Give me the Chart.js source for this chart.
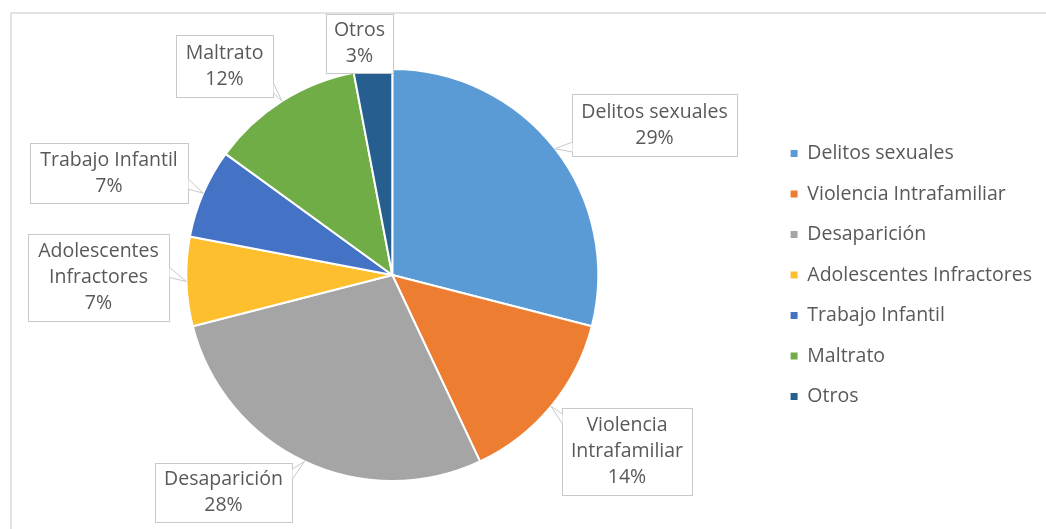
<!DOCTYPE html>
<html><head><meta charset="utf-8">
<script src="https://cdn.jsdelivr.net/npm/chart.js@4/dist/chart.umd.min.js"></script>
<style>html,body{margin:0;padding:0;background:#fff}#wrap{width:1046px;height:529px;position:relative}</style>
</head><body><div id="wrap"><canvas id="c" width="1046" height="529"></canvas></div>
<script>
// ---- data ----
const categories = ["Delitos sexuales","Violencia Intrafamiliar","Desaparición","Adolescentes Infractores","Trabajo Infantil","Maltrato","Otros"];
const percentages = [29,14,28,7,7,12,3];
const calloutNames = [["Delitos sexuales"],["Violencia","Intrafamiliar"],["Desaparición"],["Adolescentes","Infractores"],["Trabajo Infantil"],["Maltrato"],["Otros"]];
const sliceColors = ["#5B9BD5","#ED7D31","#A5A5A5","#FDBF2D","#4472C4","#70AD47","#265E90"];
// ---- layout (callout boxes: x, y, w, h) ----
const calloutBoxes = [[572,94,165,62],[562,408,130,87],[155,463,137,59],[28,234,141,87],[30,143,158,60],[176,35,97,62],[326,14,67,59]];
const FONT = '"Open Sans", sans-serif';
const FSIZE = 19.5;
const TEXT = '#595959';

const framePlugin = {
  id:'frame',
  beforeDraw(chart){
    const ctx = chart.ctx; ctx.save();
    ctx.fillStyle='#fff'; ctx.fillRect(0,0,chart.width,chart.height);
    ctx.strokeStyle='#e3e3e3'; ctx.lineWidth=2;
    ctx.strokeRect(11,13,chart.width+20,chart.height+20);
    ctx.restore();
  }
};

const calloutPlugin = {
  id:'callouts',
  afterDraw(chart){
    const ctx = chart.ctx;
    const meta = chart.getDatasetMeta(0);
    meta.data.forEach((arc,i)=>{
      const p = arc.getProps(['x','y','startAngle','endAngle','outerRadius'],true);
      const mid = (p.startAngle+p.endAngle)/2;
      const tip = {x:p.x+Math.cos(mid)*p.outerRadius, y:p.y+Math.sin(mid)*p.outerRadius};
      const [bx,by,bw,bh] = calloutBoxes[i];
      ctx.save();
      ctx.fillStyle='#fff'; ctx.strokeStyle='#c9c9c9'; ctx.lineWidth=1;
      ctx.fillRect(bx,by,bw,bh);
      ctx.strokeRect(bx+0.5,by+0.5,bw,bh);
      const inside = tip.x>=bx-4 && tip.x<=bx+bw+4 && tip.y>=by-4 && tip.y<=by+bh+4;
      if(!inside){
        let a,b;
        const dxL = bx-tip.x, dxR = tip.x-(bx+bw), dyT = by-tip.y, dyB = tip.y-(by+bh);
        const m = Math.max(dxL,dxR,dyT,dyB);
        const clampY = v=>Math.min(Math.max(v,by+6),by+bh-14);
        const clampX = v=>Math.min(Math.max(v,bx+6),bx+bw-14);
        if(m===dxL){const y0=clampY(tip.y-4);a={x:bx+0.5,y:y0};b={x:bx+0.5,y:y0+10};}
        else if(m===dxR){const y0=clampY(tip.y-14);a={x:bx+bw+0.5,y:y0};b={x:bx+bw+0.5,y:y0+10};}
        else if(m===dyT){const x0=clampX(tip.x-14);a={x:x0,y:by+0.5};b={x:x0+10,y:by+0.5};}
        else {const x0=clampX(tip.x-14);a={x:x0,y:by+bh+0.5};b={x:x0+10,y:by+bh+0.5};}
        ctx.beginPath(); ctx.moveTo(a.x,a.y); ctx.lineTo(tip.x,tip.y); ctx.lineTo(b.x,b.y); ctx.closePath();
        ctx.fill();
        ctx.beginPath(); ctx.moveTo(a.x,a.y); ctx.lineTo(tip.x,tip.y); ctx.lineTo(b.x,b.y); ctx.stroke();
      }
      const lines = calloutNames[i].concat([percentages[i]+'%']);
      ctx.fillStyle=TEXT; ctx.font=FSIZE+'px '+FONT; ctx.textAlign='center'; ctx.textBaseline='middle';
      const cy = by+bh/2, lh=26;
      lines.forEach((t,k)=>{ ctx.fillText(t, bx+bw/2, cy+(k-(lines.length-1)/2)*lh); });
      ctx.restore();
    });
  }
};

new Chart(document.getElementById('c'),{
  type:'pie',
  data:{labels:categories,datasets:[{data:percentages,backgroundColor:sliceColors,borderColor:'#fff',borderWidth:2}]},
  options:{
    responsive:false, animation:false,
    layout:{padding:{top:68,bottom:47,left:15,right:4}},
    plugins:{
      tooltip:{enabled:false},
      legend:{position:'right',
        labels:{boxWidth:7,boxHeight:7,padding:21,color:TEXT,font:{family:FONT,size:FSIZE},
          generateLabels(chart){
            return Chart.controllers.pie.overrides.plugins.legend.labels.generateLabels(chart).map(l=>({...l,lineWidth:0}));
          }}}
    }
  },
  plugins:[framePlugin,calloutPlugin]
});
</script></body></html>
